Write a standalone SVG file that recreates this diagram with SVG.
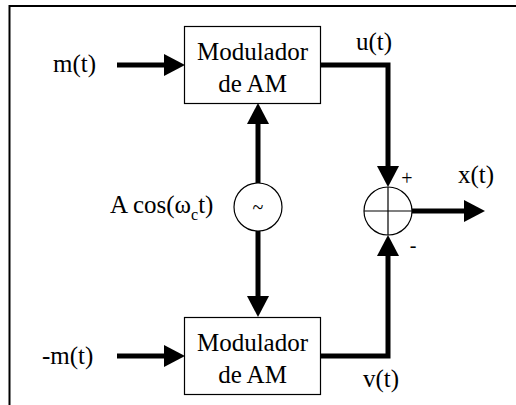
<svg xmlns="http://www.w3.org/2000/svg" width="516" height="405" viewBox="0 0 516 405">
<defs>
<marker id="ah" markerUnits="userSpaceOnUse" markerWidth="21" markerHeight="22" refX="0" refY="11" orient="auto" viewBox="0 0 21 22">
<path d="M0,0 L21,11 L0,22 Z" fill="#000"/>
</marker>
</defs>
<rect width="516" height="405" fill="#fff"/>
<path d="M9.5,405 V6 H516" fill="none" stroke="#000" stroke-width="2"/>
<g id="connectors" fill="none" stroke="#000" stroke-width="5">
<path d="M117,65 H164" marker-end="url(#ah)"/>
<path d="M117,356 H164" marker-end="url(#ah)"/>
<path d="M258,183 V124" marker-end="url(#ah)"/>
<path d="M258,231 V296" marker-end="url(#ah)"/>
<path d="M321,65 H388 V166" marker-end="url(#ah)"/>
<path d="M321,356 H388 V256" marker-end="url(#ah)"/>
<path d="M412,211 H464" marker-end="url(#ah)"/>
</g>
<g id="mod1" font-family="Times New Roman, Liberation Serif, DejaVu Serif, serif" font-size="25" text-anchor="middle">
<rect x="184.5" y="26.5" width="136" height="77" fill="#fff" stroke="#000" stroke-width="1.2"/>
<text x="252.5" y="60">Modulador</text>
<text x="252.5" y="92">de AM</text>
</g>
<g id="mod2" font-family="Times New Roman, Liberation Serif, DejaVu Serif, serif" font-size="25" text-anchor="middle">
<rect x="184.5" y="317.5" width="136" height="77" fill="#fff" stroke="#000" stroke-width="1.2"/>
<text x="252.5" y="351">Modulador</text>
<text x="252.5" y="383">de AM</text>
</g>
<g id="osc" font-family="Times New Roman, Liberation Serif, DejaVu Serif, serif" font-size="20" text-anchor="middle">
<circle cx="258" cy="207" r="24" fill="#fff" stroke="#000" stroke-width="1.2"/>
<text x="258" y="214">~</text>
</g>
<g id="sum" font-family="Times New Roman, Liberation Serif, DejaVu Serif, serif" font-size="20" text-anchor="middle">
<circle cx="388" cy="211" r="24" fill="#fff" stroke="#000" stroke-width="1.2"/>
<path d="M364,211 H412 M388,187 V235" stroke="#000" stroke-width="1.2"/>
<text x="407" y="185">+</text>
<text x="413" y="252">-</text>
</g>
<g id="labels" font-family="Times New Roman, Liberation Serif, DejaVu Serif, serif" font-size="25">
<text x="53" y="72">m(t)</text>
<text x="42" y="364">-m(t)</text>
<text x="356" y="50">u(t)</text>
<text x="363" y="387">v(t)</text>
<text x="458" y="183">x(t)</text>
<text x="110" y="213">A cos(ω<tspan dy="7" font-size="16">c</tspan><tspan dy="-7">t)</tspan></text>
</g>
</svg>
